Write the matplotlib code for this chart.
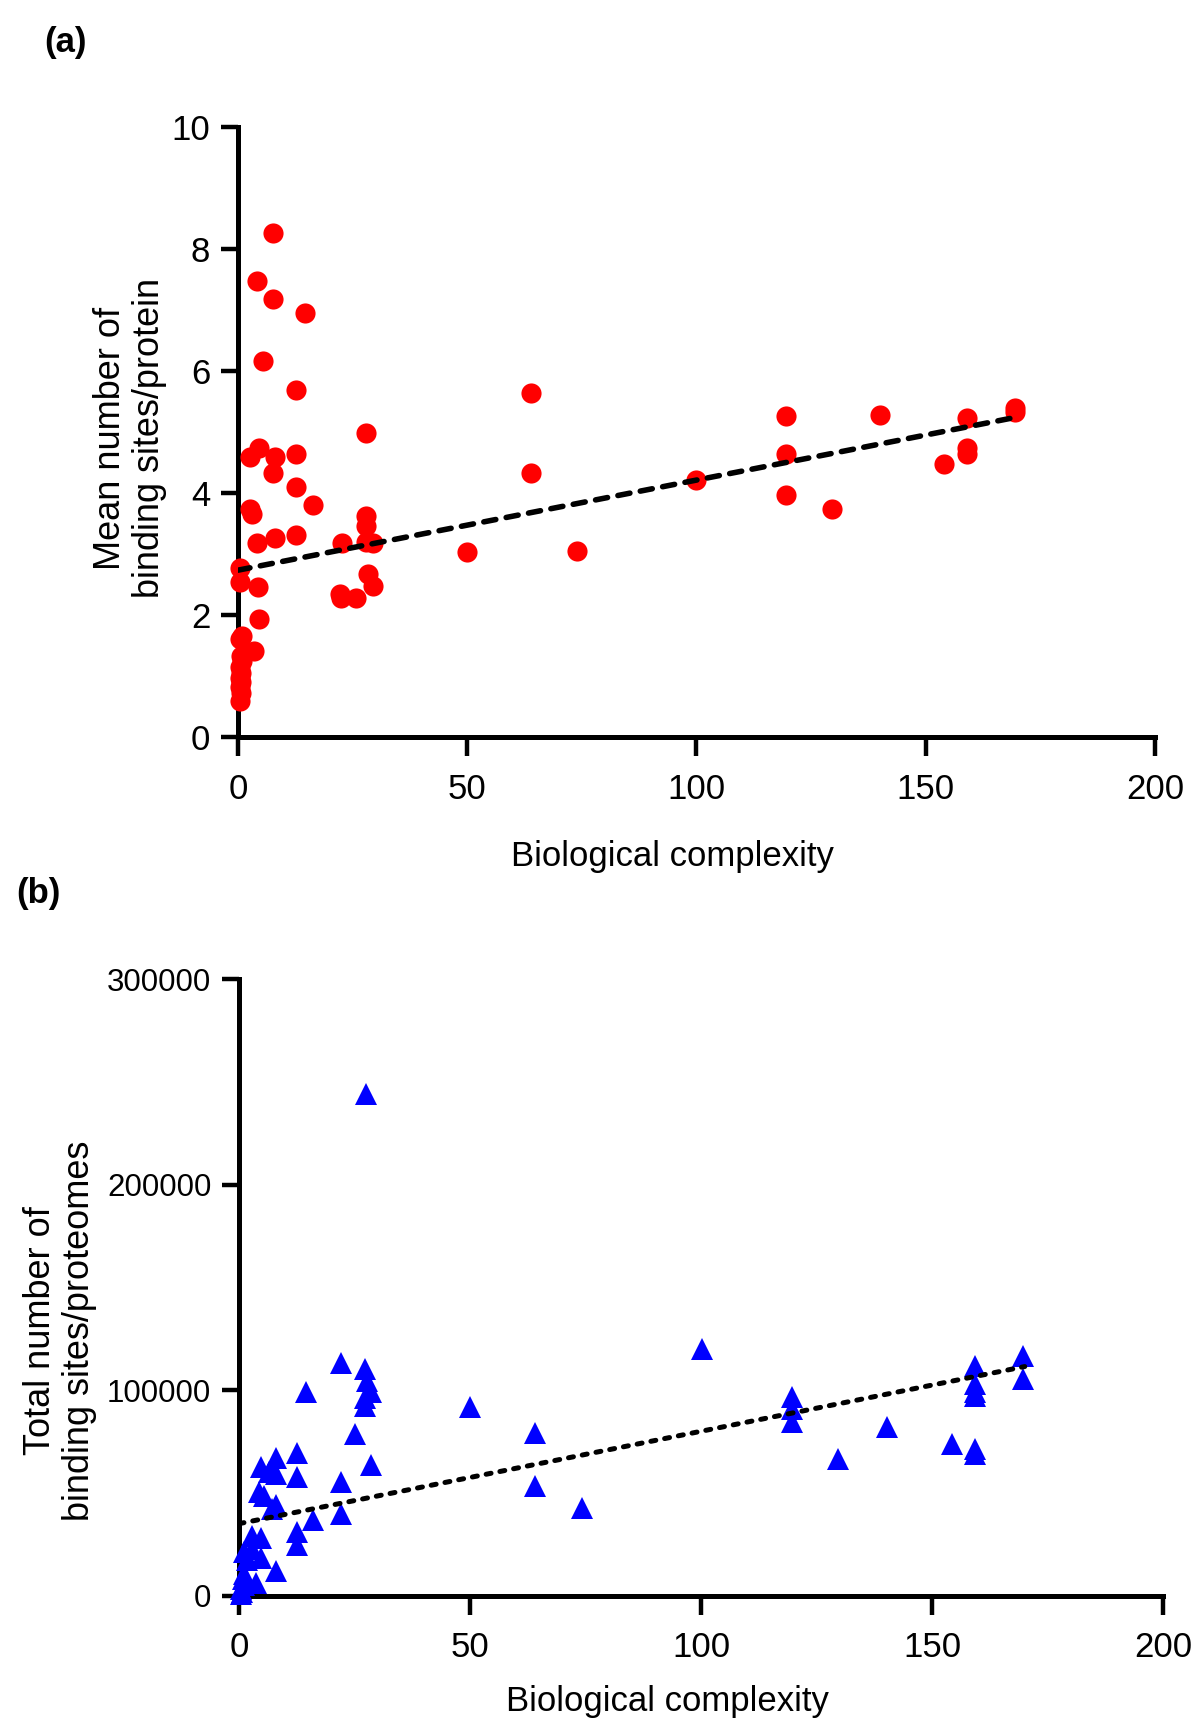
import numpy as np
import matplotlib
matplotlib.use("Agg")
import matplotlib.pyplot as plt

plt.rcParams['font.family'] = ['Liberation Sans', 'DejaVu Sans']

# panel (a): mean number of binding sites per protein
cx_a = [7.7, 4.2, 7.7, 14.6, 5.5, 12.7, 28, 64, 64, 50, 74, 100,
        119.5, 119.5, 119.5, 129.6, 140, 154, 159, 159, 159, 169.5, 169.5,
        4.5, 2.7, 8.0, 12.7, 7.7, 12.7, 2.7, 3.0, 16.4, 4.2, 8.0, 12.7,
        22.6, 28, 28, 28, 29.5, 0.4, 0.4, 4.4, 22.3, 22.5, 25.8, 28.4, 29.5,
        4.5, 0.8, 3.6,
        0.5, 0.6, 0.8, 0.5, 0.7, 0.5, 0.6, 0.5, 0.7, 0.5]
mean_a = [8.26, 7.47, 7.18, 6.95, 6.16, 5.69, 4.98, 5.65, 4.33, 3.03, 3.05, 4.22,
          5.27, 4.64, 3.97, 3.74, 5.29, 4.48, 5.23, 4.75, 4.64, 5.40, 5.33,
          4.74, 4.60, 4.60, 4.64, 4.33, 4.11, 3.74, 3.66, 3.80, 3.19, 3.26, 3.32,
          3.19, 3.63, 3.47, 3.21, 3.19, 2.78, 2.55, 2.47, 2.35, 2.29, 2.29, 2.67, 2.48,
          1.94, 1.66, 1.41,
          1.62, 1.33, 1.25, 1.15, 1.06, 0.98, 0.90, 0.82, 0.72, 0.60]
fit_x = [0, 170]
fit_a = [2.74, 5.25]

# panel (b): total number of binding sites per proteome
cx_b = [27.5, 100.2, 22.1, 27.3, 27.6, 28.6, 27.3, 27.3, 14.5, 50, 25.1,
        64, 64, 74.2, 119.6, 119.6, 119.6, 129.7, 140.2, 154.3,
        159.3, 159.3, 159.3, 159.3, 159.3, 159.3, 169.6, 169.6,
        12.5, 8.0, 4.7, 6.5, 8.0, 12.5, 28.6, 22.1, 4.3, 5.4, 8.0, 7.2, 22.1,
        16.1, 12.5, 12.5, 2.9, 4.7, 1.1, 2.9, 4.7, 1.8, 8.0, 3.6, 1.1, 0.7,
        1.1, 0.5, 0.5, 0.8]
total_b = [244400, 120200, 113200, 110500, 104300, 99000, 96300, 92300, 99000, 92000, 78600,
           79200, 53200, 42500, 96600, 90900, 84400, 66500, 82000, 73900,
           111600, 103100, 99000, 97400, 71400, 69000, 116600, 105200,
           69200, 67000, 62600, 60000, 59100, 57800, 63500, 55500, 50200, 48400, 44000, 41900, 39600,
           36900, 30700, 24500, 28900, 28000, 21000, 22700, 18300, 17400, 12100, 5900, 5000, 1500,
           10300, 3000, 500, 8000]
fit_b = [35000, 111500]

x_ticks = [0, 50, 100, 150, 200]
a_ticks = [0, 2, 4, 6, 8, 10]
b_ticks = [0, 100000, 200000, 300000]

fig = plt.figure(figsize=(12, 17.29), dpi=100)
ax1 = fig.add_axes([0.1983, 0.5735, 0.7642, 0.353])
ax2 = fig.add_axes([0.1992, 0.0772, 0.7703, 0.3563])


def style(ax):
    for s in ["top", "right"]:
        ax.spines[s].set_visible(False)
    for s in ["left", "bottom"]:
        ax.spines[s].set_linewidth(3.6)
        ax.spines[s].set_capstyle("projecting")
    ax.tick_params(width=3.2, direction="out", labelsize=25)
    ax.tick_params(axis="x", length=13.5, pad=12)
    ax.tick_params(axis="y", length=12, pad=8)


style(ax1)
ax1.plot(cx_a, mean_a, "o", color="#ff0000", markersize=14.5, markeredgewidth=0,
         clip_on=False, zorder=5)
ax1.plot(fit_x, fit_a, color="black", lw=4.0, dashes=(2.2, 1.9),
         dash_capstyle="round", zorder=6)
ax1.set_xlim(0, 200)
ax1.set_ylim(0, 10)
ax1.set_xticks(x_ticks)
ax1.set_yticks(a_ticks)
ax1.set_xlabel("Biological complexity", fontsize=25)
ax1.set_ylabel("Mean number of\nbinding sites/protein", fontsize=26, linespacing=1.15)
ax1.xaxis.set_label_coords(0.474, -0.168)
ax1.yaxis.set_label_coords(-0.077, 0.49)

style(ax2)
ax2.plot(cx_b, total_b, "^", color="#0000ff", markersize=15.5, markeredgewidth=0,
         clip_on=False, zorder=5)
ax2.plot(fit_x, fit_b, color="black", lw=3.6, dashes=(1.0, 1.8),
         dash_capstyle="round", zorder=6)
ax2.set_xlim(0, 200)
ax2.set_ylim(0, 300000)
ax2.set_xticks(x_ticks)
ax2.set_yticks(b_ticks)
ax2.set_yticklabels([str(v) for v in b_ticks], fontsize=22.5)
ax2.set_xlabel("Biological complexity", fontsize=25)
ax2.set_ylabel("Total number of\nbinding sites/proteomes", fontsize=26, linespacing=1.15)
ax2.xaxis.set_label_coords(0.463, -0.146)
ax2.yaxis.set_label_coords(-0.154, 0.43)

fig.text(0.0367, 0.9757, "(a)", fontsize=25, fontweight="bold", va="center", ha="left")
fig.text(0.0133, 0.4835, "(b)", fontsize=25, fontweight="bold", va="center", ha="left")

fig.savefig("out.png", dpi=100, facecolor="white")
